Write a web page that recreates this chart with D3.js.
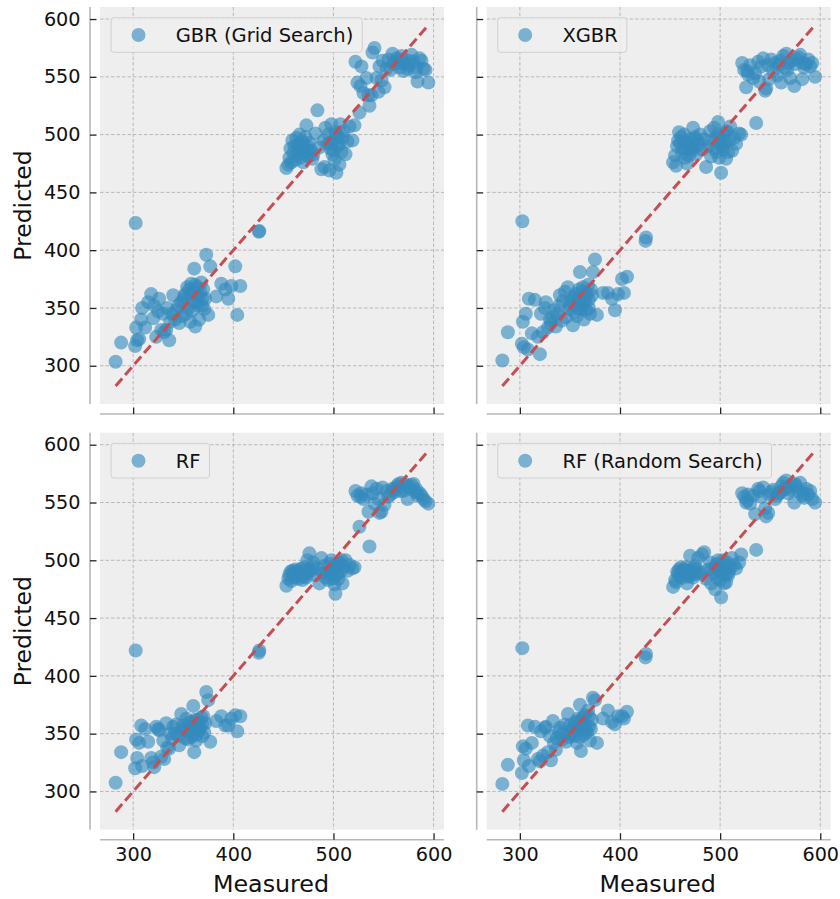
<!DOCTYPE html>
<html>
<head>
<meta charset="utf-8">
<script src="https://cdn.jsdelivr.net/npm/d3@7"></script>
<style>
  html, body { margin: 0; padding: 0; background: #ffffff; }
  svg { display: block; font-family: "DejaVu Sans", sans-serif; }
</style>
</head>
<body>
<svg id="chart" width="840" height="899"></svg>
<script>
// Measured values of the test samples (shared by all four models)
const measured = [
  282.5, 288, 302, 303, 304, 306, 308, 309, 312, 315, 318, 320, 321, 323, 325, 326, 328, 330, 331, 333,
  334, 336, 337, 339, 340, 342, 343, 345, 346, 348, 349, 350, 352, 353, 354, 355, 357, 358, 359, 360,
  361, 362, 363, 364, 365, 366, 368, 369, 370, 372, 373, 375, 377, 383, 388, 392, 395, 398, 402, 404, 407,
  302.5, 425.5, 426,
  453, 455, 456, 457, 458, 459, 460, 461, 462, 463, 464, 465, 466, 467, 468, 469, 470, 471, 472, 473,
  474, 475, 476, 478, 480, 482, 484, 486, 488, 490, 491, 492, 494, 495, 496, 497, 498, 499, 500, 501,
  502, 503, 504, 505, 506, 507, 508, 509, 510, 512, 514, 516, 519, 521,
  522, 524, 526, 527, 528, 530, 533, 535, 536, 538, 539, 541, 543, 545, 546, 548, 549, 551, 553, 555,
  557, 559, 561, 563, 565, 566, 568, 570, 572, 574, 576, 578, 580, 582, 584, 586, 588, 590, 592, 594.8,
  351, 356, 358, 360, 362, 363, 365, 367, 369, 371,
  465, 470, 475, 479, 497, 500, 503, 506,
  560, 567, 575, 583
];

// Predicted values, one array per model, in the same order as `measured`
const predGBR = [
  303.5, 320, 317, 333, 322, 323, 340, 350, 333, 355, 362, 341, 352, 325, 347, 358, 331, 345, 329, 331,
  350, 322, 338, 345, 361, 340, 348, 352, 337, 355, 343, 357, 362, 345, 368, 350, 338, 371, 348, 365,
  384, 334, 355, 368, 361, 340, 372, 352, 366, 358, 396, 344, 386, 360, 371, 366, 358, 369, 386, 344, 369,
  423.5, 416, 416.5,
  471, 474, 480, 488, 476, 495, 484, 490, 478, 497, 486, 492, 500, 480, 488, 494, 476, 484, 498, 508,
  490, 481, 493, 486, 483, 501, 521, 489, 470, 495, 472, 506, 492, 500, 469, 488, 509, 483, 495, 478,
  502, 467, 490, 498, 474, 509, 485, 497, 503, 483, 494, 507, 495, 508,
  563, 545, 519, 542, 559, 536, 549, 534, 525, 534, 571, 575, 549, 537, 559, 547, 564, 541, 557, 565,
  556, 570, 563, 566, 562, 558, 568, 555, 562, 557, 564, 569, 563, 554, 546, 566, 564, 557, 556, 545,
  360, 366, 362, 355, 370, 360, 352, 364, 358, 349,
  483, 492, 486, 479, 493, 486, 500, 492,
  561, 565, 560, 558
];
const predXGBR = [
  304.5, 329, 319, 338, 316, 345, 314, 358, 328, 357, 325, 310, 345, 329, 350, 355, 333, 340, 337, 342,
  348, 334, 345, 352, 361, 339, 356, 364, 342, 368, 349, 352, 358, 335, 346, 360, 343, 355, 366, 381,
  349, 364, 353, 340, 362, 348, 370, 357, 345, 361, 381, 392, 344, 363, 363, 358, 348, 362, 375, 363, 377,
  425, 408, 411,
  476, 482, 473, 490, 495, 502, 492, 498, 484, 488, 500, 480, 487, 475, 493, 482, 496, 490, 486, 506,
  489, 498, 483, 494, 500, 487, 496, 472, 490, 503, 481, 495, 506, 488, 485, 498, 511, 480, 492, 467,
  490, 487, 500, 494, 479, 503, 485, 495, 507, 486, 497, 492, 501, 500,
  562, 556, 541, 555, 552, 560, 549, 553, 510, 563, 546, 559, 566, 538, 540, 560, 548, 565, 555, 562,
  551, 561, 545, 568, 558, 570, 562, 549, 564, 542, 565, 567, 569, 548, 558, 561, 565, 559, 562, 550,
  356, 362, 350, 358, 352, 368, 355, 362, 350, 366,
  494, 488, 496, 491, 500, 496, 491, 502,
  564, 556, 561, 562
];
const predRF = [
  307.5, 334, 320, 345, 329, 342, 357, 322, 354, 343, 329, 325, 321, 356, 354, 353, 330, 344, 328, 359,
  338, 337, 350, 346, 356, 350, 358, 348, 340, 367, 354, 357, 346, 363, 352, 345, 360, 355, 350, 374,
  334, 362, 344, 358, 353, 353, 364, 348, 365, 359, 386, 379, 343, 361, 365, 357, 357, 363, 366, 352, 365,
  422, 420, 422,
  478, 484, 487, 490, 482, 491, 489, 485, 492, 488, 490, 484, 491, 486, 493, 483, 489, 494, 487, 485,
  500, 492, 506, 491, 498, 487, 493, 480, 502, 489, 495, 485, 490, 483, 497, 488, 500, 484, 492, 479,
  471, 495, 488, 484, 498, 490, 500, 480, 494, 500, 491, 496, 493, 494,
  560, 556, 529, 555, 558, 553, 557, 542, 512, 564, 558, 549, 562, 553, 541, 542, 563, 548, 560, 555,
  557, 562, 559, 564, 566, 563, 567, 560, 566, 553, 562, 565, 566, 559, 556, 558, 556, 553, 551, 549,
  352, 358, 347, 360, 356, 349, 362, 355, 358, 351,
  488, 486, 490, 494, 491, 495, 489, 497,
  561, 560, 564, 561
];
const predRFRS = [
  306.5, 323, 316, 339, 327, 337, 357, 322, 342, 356, 328, 326, 352, 331, 355, 356, 334, 348, 327, 361,
  342, 336, 346, 352, 355, 345, 350, 358, 343, 367, 347, 357, 352, 355, 348, 360, 342, 363, 352, 375,
  335, 358, 364, 349, 366, 353, 370, 356, 344, 362, 381, 379, 342, 363, 370, 360, 358, 365, 365, 363, 369,
  424, 416, 419,
  477, 483, 481, 490, 488, 492, 486, 494, 490, 485, 492, 488, 494, 480, 491, 486, 504, 489, 492, 485,
  490, 495, 488, 502, 490, 505, 507, 484, 492, 498, 480, 493, 489, 475, 495, 485, 500, 490, 483, 468,
  488, 496, 480, 492, 481, 498, 487, 490, 494, 502, 496, 493, 498, 505,
  558, 555, 550, 552, 557, 549, 556, 540, 509, 562, 560, 555, 563, 545, 538, 541, 557, 559, 561, 553,
  556, 558, 564, 567, 562, 569, 558, 561, 566, 550, 564, 560, 567, 556, 554, 562, 557, 560, 553, 550,
  350, 356, 360, 347, 362, 355, 358, 351, 365, 354,
  490, 487, 493, 489, 497, 492, 500, 488,
  559, 563, 566, 558
];

const panels = [
  { name: "GBR (Grid Search)",  pred: predGBR,  col: 0, row: 0 },
  { name: "XGBR",               pred: predXGBR, col: 1, row: 0 },
  { name: "RF",                 pred: predRF,   col: 0, row: 1 },
  { name: "RF (Random Search)", pred: predRFRS, col: 1, row: 1 }
];
const ticks = [300, 400, 500, 600];
const yTicks = [300, 350, 400, 450, 500, 550, 600];

// Layout of the 2x2 grid
const colX = [100, 486.7];
const rowY = [7, 432.7];
const W = 344, H = 397;
const spineOffset = 10;

const blue = "#348ABD";
const red = "#C44E52";
const tickFont = 19.2;

// Shared limits: extent of the measured values with 5% padding
const [mn, mx] = d3.extent(measured);
const pad = (mx - mn) * 0.05;
const domain = [mn - pad, mx + pad];

const svg = d3.select("#chart");

panels.forEach(p => {
  const x0 = colX[p.col], y0 = rowY[p.row];
  const x = d3.scaleLinear().domain(domain).range([x0, x0 + W]);
  const y = d3.scaleLinear().domain(domain).range([y0 + H, y0]);
  const g = svg.append("g");

  // plot background
  g.append("rect").attr("x", x0).attr("y", y0).attr("width", W).attr("height", H)
    .attr("fill", "#eeeeee");

  // dashed grid
  const grid = g.append("g").attr("stroke", "#b2b2b2").attr("stroke-width", 0.9)
    .attr("stroke-dasharray", "3.5,2");
  ticks.forEach(t => grid.append("line").attr("x1", x(t)).attr("x2", x(t))
    .attr("y1", y0).attr("y2", y0 + H));
  yTicks.forEach(t => grid.append("line").attr("x1", x0).attr("x2", x0 + W)
    .attr("y1", y(t)).attr("y2", y(t)));

  // left axis (offset spine, inward ticks)
  const yAxis = d3.axisRight(y).tickValues(yTicks).tickSize(6.5)
    .tickFormat(p.col === 0 ? d3.format("d") : () => "");
  const ya = g.append("g").attr("transform", `translate(${x0 - spineOffset},0)`).call(yAxis);
  ya.select(".domain").attr("stroke", "#b8b8b8").attr("stroke-width", 1.6)
    .attr("d", `M0,${y0}V${y0 + H}`);
  ya.selectAll(".tick line").attr("stroke", "#222").attr("stroke-width", 1.3);
  ya.selectAll(".tick text").attr("x", -9.5).attr("text-anchor", "end")
    .attr("font-size", tickFont).attr("font-family", "DejaVu Sans").attr("fill", "#111");

  // bottom axis (offset spine, inward ticks)
  const xAxis = d3.axisTop(x).tickValues(ticks).tickSize(6.5)
    .tickFormat(p.row === 1 ? d3.format("d") : () => "");
  const xa = g.append("g").attr("transform", `translate(0,${y0 + H + spineOffset})`).call(xAxis);
  xa.select(".domain").attr("stroke", "#b8b8b8").attr("stroke-width", 1.6)
    .attr("d", `M${x0},0H${x0 + W}`);
  xa.selectAll(".tick line").attr("stroke", "#222").attr("stroke-width", 1.3);
  xa.selectAll(".tick text").attr("y", 8).attr("dy", "0.71em")
    .attr("font-size", tickFont).attr("font-family", "DejaVu Sans").attr("fill", "#111");

  // scatter points
  const pts = measured.map((m, i) => ({ m, v: p.pred[i] }));
  g.append("g").selectAll("circle").data(pts).join("circle")
    .attr("cx", d => x(d.m)).attr("cy", d => y(d.v)).attr("r", 7)
    .attr("fill", blue).attr("fill-opacity", 0.62);

  // identity line across the measured range
  g.append("line")
    .attr("x1", x(mn)).attr("y1", y(mn)).attr("x2", x(mx)).attr("y2", y(mx))
    .attr("stroke", red).attr("stroke-width", 3).attr("stroke-dasharray", "10,4.5");

  // legend
  const lg = g.append("g");
  const box = lg.append("rect").attr("x", x0 + 11).attr("y", y0 + 10.7)
    .attr("height", 34.6).attr("rx", 3)
    .attr("fill", "#efefef").attr("fill-opacity", 0.85)
    .attr("stroke", "#d0d0d0").attr("stroke-width", 1);
  lg.append("circle").attr("cx", x0 + 38.5).attr("cy", y0 + 28).attr("r", 7)
    .attr("fill", blue).attr("fill-opacity", 0.62);
  const lt = lg.append("text").attr("x", x0 + 75.7).attr("y", y0 + 28).attr("dy", "0.36em")
    .attr("font-size", 19.5).attr("fill", "#111").text(p.name);
  const tw = lt.node().getComputedTextLength();
  box.attr("width", 75.7 - 11 + tw + 9);

  // axis titles
  if (p.col === 0) {
    svg.append("text")
      .attr("transform", `translate(23,${y0 + H / 2}) rotate(-90)`)
      .attr("text-anchor", "middle").attr("dy", "0.36em")
      .attr("font-size", 23.5).attr("fill", "#111").text("Predicted");
  }
  if (p.row === 1) {
    svg.append("text")
      .attr("x", x0 + W / 2 - 1).attr("y", 892)
      .attr("text-anchor", "middle")
      .attr("font-size", 23.8).attr("fill", "#111").text("Measured");
  }
});
</script>
</body>
</html>
